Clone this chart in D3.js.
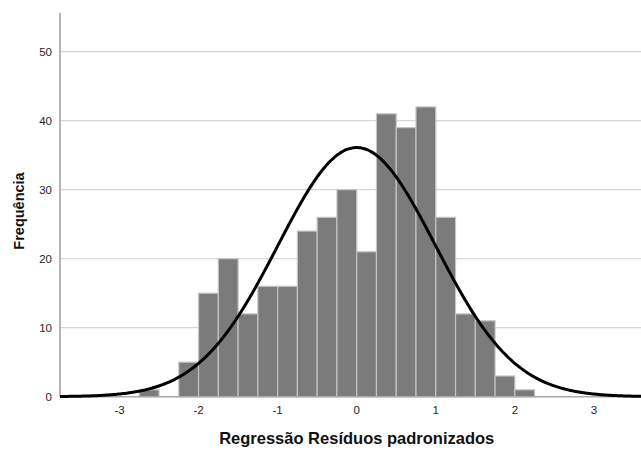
<!DOCTYPE html>
<html>
<head>
<meta charset="utf-8">
<script src="https://cdn.jsdelivr.net/npm/d3@7"></script>
<style>
  body { margin: 0; background: #fff; }
  text { font-family: "Liberation Sans", Arial, sans-serif; }
</style>
</head>
<body>
<div id="chart"></div>
<script>
// histogram bins (lower edge, width 0.25) and counts
const binStart = -2.75;
const binWidth = 0.25;
const counts = [1, 0, 5, 15, 20, 12, 16, 16, 24, 26, 30, 21, 41, 39, 42, 26, 12, 11, 3, 1];

// normal curve parameters
const mean = 0;
const stdDev = 0.997;
const total = d3.sum(counts);

const yTicks = [0, 10, 20, 30, 40, 50];
const xTicks = [-3, -2, -1, 0, 1, 2, 3];

const width = 641, height = 450;

const svg = d3.select("#chart")
  .append("svg")
    .attr("width", width)
    .attr("height", height);

const x = d3.scaleLinear().domain([-3, 3]).range([119.5, 593.9]);
const y = d3.scaleLinear().domain([0, 50]).range([396.7, 51.7]);

const plotLeft = 60, plotRight = 641, plotTop = 13;

// gridlines
svg.append("g")
  .selectAll("line")
  .data(yTicks.filter(d => d > 0))
  .join("line")
    .attr("x1", plotLeft)
    .attr("x2", plotRight)
    .attr("y1", d => y(d))
    .attr("y2", d => y(d))
    .style("stroke", "#d6d6d6")
    .style("stroke-width", 1.3);

// bars
const bins = counts.map((c, i) => ({x0: binStart + i * binWidth, x1: binStart + (i + 1) * binWidth, count: c}));

svg.append("g")
  .selectAll("rect")
  .data(bins.filter(d => d.count > 0))
  .join("rect")
    .attr("x", d => x(d.x0))
    .attr("width", d => x(d.x1) - x(d.x0))
    .attr("y", d => y(d.count))
    .attr("height", d => y(0) - y(d.count))
    .style("fill", "#7b7b7b")
    .style("stroke", "#c4c4c4")
    .style("stroke-width", 1.2);

// axes lines
svg.append("line")
  .attr("x1", plotLeft).attr("x2", plotRight)
  .attr("y1", y(0)).attr("y2", y(0))
  .style("stroke", "#a8a8a8")
  .style("stroke-width", 1.5);

svg.append("line")
  .attr("x1", plotLeft).attr("x2", plotLeft)
  .attr("y1", plotTop).attr("y2", y(0))
  .style("stroke", "#a8a8a8")
  .style("stroke-width", 1.7);

// normal curve
svg.append("clipPath")
  .attr("id", "plotClip")
  .append("rect")
    .attr("x", plotLeft).attr("y", plotTop)
    .attr("width", plotRight - plotLeft).attr("height", y(0) - plotTop + 4);

const curveXs = d3.range(x.invert(plotLeft), x.invert(plotRight) + 0.02, 0.02);
const curve = d3.line()
  .x(d => x(d))
  .y(d => y(total * binWidth * Math.exp(-0.5 * ((d - mean) / stdDev) ** 2) / (stdDev * Math.sqrt(2 * Math.PI))))
  .curve(d3.curveBasis);

svg.append("path")
  .datum(curveXs)
  .attr("d", curve)
  .attr("clip-path", "url(#plotClip)")
  .style("fill", "none")
  .style("stroke", "#000")
  .style("stroke-width", 3);

// tick labels
svg.append("g")
  .selectAll("text")
  .data(yTicks)
  .join("text")
    .attr("x", 52)
    .attr("y", d => y(d))
    .attr("dy", "0.35em")
    .style("text-anchor", "end")
    .style("font-size", "11.5px")
    .style("fill", "#262626")
    .text(d => d);

svg.append("g")
  .selectAll("text")
  .data(xTicks)
  .join("text")
    .attr("x", d => x(d))
    .attr("y", 414)
    .style("text-anchor", "middle")
    .style("font-size", "11.5px")
    .style("fill", "#262626")
    .text(d => d);

// axis titles
svg.append("text")
  .attr("x", x(0))
  .attr("y", 444)
  .style("text-anchor", "middle")
  .style("font-size", "16.5px")
  .style("font-weight", "bold")
  .style("fill", "#111")
  .text("Regressão Resíduos padronizados");

svg.append("text")
  .attr("transform", "translate(24, 211) rotate(-90)")
  .style("text-anchor", "middle")
  .style("font-size", "14.5px")
  .style("font-weight", "bold")
  .style("fill", "#111")
  .text("Frequência");
</script>
</body>
</html>
